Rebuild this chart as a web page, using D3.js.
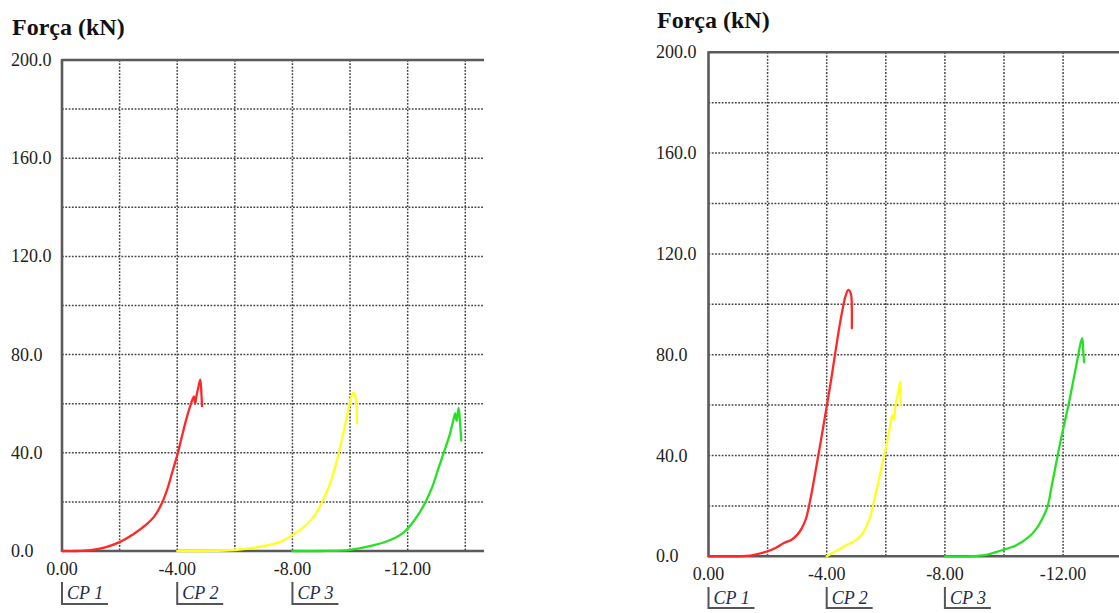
<!DOCTYPE html>
<html>
<head>
<meta charset="utf-8">
<script src="https://cdn.jsdelivr.net/npm/d3@7"></script>
<style>
  html, body { margin: 0; padding: 0; background: #fff; }
  svg { display: block; }
</style>
</head>
<body>
<svg id="chart" width="1119" height="613"></svg>
<script>
// Force (kN) vs displacement (mm) for three specimens, two test series.
const yTicks = [0, 40, 80, 120, 160, 200];
const xTicks = [0, -4, -8, -12];
const yGrid = [20, 40, 60, 80, 100, 120, 140, 160, 180];
const xGrid = [-2, -4, -6, -8, -10, -12, -14];
const specimens = ["CP 1", "CP 2", "CP 3"];
const specimenOffsets = [0, -4, -8];
const colors = ["#ff2828", "#ffff1e", "#26e026"];

// Series A: [displacement, force]
const seriesA_CP1 = [[0,0],[-0.5,0],[-1.0,0.4],[-1.5,1.5],[-2.0,3.6],[-2.5,7.0],[-2.9,10.5],[-3.2,14],[-3.45,19],[-3.65,25],[-3.85,33],[-4.0,39],[-4.15,46],[-4.3,53],[-4.45,59],[-4.58,63],[-4.62,60],[-4.65,62],[-4.72,66],[-4.8,69.8],[-4.84,64],[-4.86,59]];
const seriesA_CP2 = [[-4,0],[-5,0],[-6,0.4],[-7,2],[-7.6,3.8],[-8.0,6.5],[-8.4,9.8],[-8.7,13.5],[-8.95,18],[-9.15,23],[-9.35,29],[-9.5,35],[-9.65,42],[-9.8,50],[-9.95,58],[-10.05,63],[-10.12,64.5],[-10.2,62],[-10.24,52]];
const seriesA_CP3 = [[-8,0],[-9,0],[-10,0.5],[-10.8,2.3],[-11.4,4.5],[-11.8,7],[-12.1,10.5],[-12.35,14.5],[-12.6,19.5],[-12.85,26],[-13.05,33],[-13.25,40],[-13.45,47],[-13.6,54],[-13.65,56],[-13.7,53],[-13.77,58.3],[-13.82,52],[-13.86,45]];

// Series B: [displacement, force]
const seriesB_CP1 = [[0,0],[-1.0,0],[-1.5,0.5],[-2.0,2],[-2.3,3.5],[-2.55,5.3],[-2.8,6.5],[-3.0,8.5],[-3.15,11],[-3.3,15],[-3.42,21],[-3.55,29],[-3.7,39],[-3.85,49],[-4.0,59.5],[-4.15,70],[-4.28,80],[-4.4,89],[-4.52,97],[-4.62,102.5],[-4.73,105.7],[-4.82,104],[-4.85,98],[-4.85,90.5]];
const seriesB_CP2 = [[-4,0],[-4.3,2],[-4.6,4],[-5.0,6.5],[-5.2,8.8],[-5.35,12],[-5.48,16],[-5.6,22],[-5.72,28],[-5.85,35],[-6.0,43],[-6.12,50],[-6.22,56],[-6.27,54],[-6.33,60],[-6.42,65],[-6.49,69.3],[-6.5,60]];
const seriesB_CP3 = [[-8,0],[-8.8,0],[-9.4,0.6],[-9.9,2.3],[-10.4,4.3],[-10.8,7.3],[-11.1,11],[-11.3,15],[-11.48,20],[-11.6,27],[-11.75,36],[-11.9,45],[-12.05,53],[-12.2,61],[-12.35,70],[-12.5,79],[-12.6,85],[-12.65,86.5],[-12.68,82],[-12.71,77]];

const svg = d3.select("#chart");
const serif = "'Liberation Serif', 'Times New Roman', serif";

function drawPanel(p, curves) {
  const g = svg.append("g");
  const x = d3.scaleLinear().domain([0, -14.65]).range([p.left, p.right]);
  const y = d3.scaleLinear().domain([0, 200]).range([p.bottom, p.top]);

  // title
  g.append("text")
    .attr("x", p.titleX).attr("y", p.titleY)
    .attr("font-family", serif).attr("font-weight", "bold")
    .attr("font-size", 24).attr("fill", "#111")
    .text("Força (kN)");

  // dotted grid
  g.append("g").selectAll("line").data(yGrid).join("line")
    .attr("x1", p.left).attr("x2", p.right)
    .attr("y1", d => y(d)).attr("y2", d => y(d))
    .attr("stroke", "#444").attr("stroke-width", 1.5)
    .attr("stroke-dasharray", "1.8,1.5");
  g.append("g").selectAll("line").data(xGrid).join("line")
    .attr("x1", d => x(d)).attr("x2", d => x(d))
    .attr("y1", p.top).attr("y2", p.bottom)
    .attr("stroke", "#444").attr("stroke-width", 1.5)
    .attr("stroke-dasharray", "1.8,1.5");

  // frame: top border, left and bottom axes
  const frame = g.append("g").attr("stroke", "#5a5a5a").attr("stroke-width", 2.6).attr("fill", "none");
  frame.append("line").attr("x1", p.left).attr("x2", p.right).attr("y1", y(200)).attr("y2", y(200));
  frame.append("line").attr("x1", p.left).attr("x2", p.left).attr("y1", y(200) - 1).attr("y2", y(0) + 1);
  frame.append("line").attr("x1", p.left).attr("x2", p.right).attr("y1", y(0)).attr("y2", y(0));

  // y tick labels
  g.append("g").selectAll("text").data(yTicks).join("text")
    .attr("x", p.yLabelX).attr("y", d => y(d) + 6)
    .attr("font-family", serif).attr("font-size", 18).attr("fill", "#222")
    .text(d => d.toFixed(1));

  // x tick labels
  g.append("g").selectAll("text").data(xTicks).join("text")
    .attr("x", d => x(d)).attr("y", p.xLabelY)
    .attr("text-anchor", "middle")
    .attr("font-family", serif).attr("font-size", 18).attr("fill", "#222")
    .text(d => d.toFixed(2));

  // curves
  const line = d3.line().x(d => x(d[0])).y(d => y(d[1])).curve(d3.curveCatmullRom.alpha(0.5));
  curves.forEach((c, i) => {
    g.append("path").datum(c)
      .attr("d", line)
      .attr("fill", "none")
      .attr("stroke", colors[i])
      .attr("stroke-width", 2.3)
      .attr("stroke-linejoin", "round")
      .attr("stroke-linecap", "round");
  });

  // specimen labels with bracket
  specimens.forEach((name, i) => {
    const bx = x(specimenOffsets[i]);
    g.append("path")
      .attr("d", `M${bx},${p.capTop} V${p.capBottom} H${bx + 46}`)
      .attr("fill", "none").attr("stroke", "#555").attr("stroke-width", 2);
    g.append("text")
      .attr("x", bx + 5).attr("y", p.capText)
      .attr("font-family", serif).attr("font-style", "italic")
      .attr("font-size", 18).attr("fill", "#1f2d4d")
      .text(name);
  });
}

drawPanel({
  left: 62, right: 484, top: 60, bottom: 551,
  titleX: 12, titleY: 35, yLabelX: 11, xLabelY: 575,
  capTop: 582, capBottom: 604, capText: 599
}, [seriesA_CP1, seriesA_CP2, seriesA_CP3]);

drawPanel({
  left: 708.5, right: 1141.4, top: 52.3, bottom: 556.3,
  titleX: 657, titleY: 28, yLabelX: 656, xLabelY: 580,
  capTop: 587, capBottom: 608, capText: 604
}, [seriesB_CP1, seriesB_CP2, seriesB_CP3]);
</script>
</body>
</html>
